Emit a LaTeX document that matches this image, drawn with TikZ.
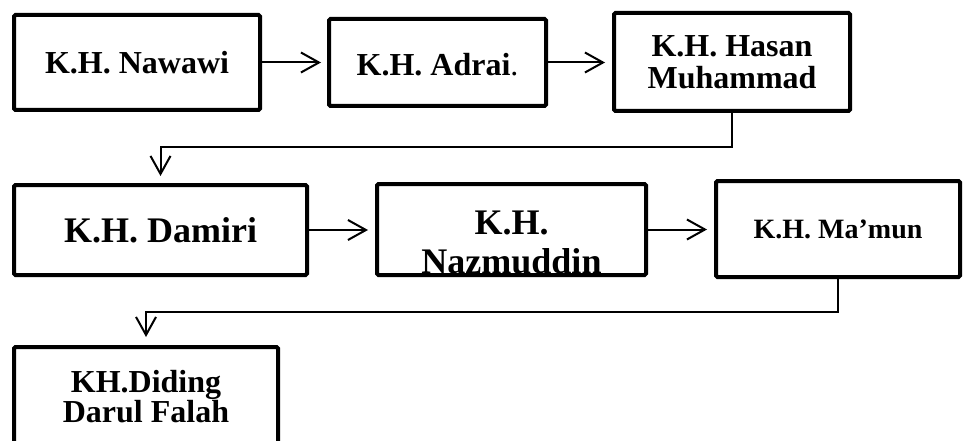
\documentclass[tikz,border=0pt]{standalone}
\usepackage{fontspec}
\setmainfont{Liberation Serif}
\usetikzlibrary{arrows.meta}
\begin{document}
\begin{tikzpicture}[x=1pt,y=-1pt,
  box/.style={draw, line width=4pt, rounded corners=1.5pt, inner sep=0pt, align=center},
  fa/.style={font=\bfseries\fontsize{32}{32}\selectfont},
  fb/.style={font=\bfseries\fontsize{36}{39}\selectfont},
  fc/.style={font=\bfseries\fontsize{28}{28}\selectfont},
  conn/.style={line width=2pt, -{Straight Barb[length=18pt,width=20pt]}},
]
\useasboundingbox (0,0) rectangle (968,441);
\clip (0,0) rectangle (968,441);
% boxes
\node[box, fa, minimum width=246pt, minimum height=95pt] (n1) at (137,62.5) {K.H. Nawawi};
\node[box, fa, minimum width=217pt, minimum height=87pt, text height=27pt] (n2) at (437.5,62.5) {K.H. Adrai{\mdseries.}};
\node[box, fa, minimum width=236pt, minimum height=98pt] (n3) at (732,62) {K.H. Hasan\\Muhammad};
\node[box, fb, minimum width=293pt, minimum height=90pt] (n4) at (160.5,230) {K.H. Damiri};
\node[box, minimum width=269pt, minimum height=91pt] (n5) at (511.5,229.5) {};
\node[box, fc, minimum width=244pt, minimum height=96pt] (n6) at (838,229) {K.H. Ma’mun};
\node[box, minimum width=264pt, minimum height=131pt] (n7) at (146,412.5) {};
% clipped texts
\begin{scope}
  \clip (n5.north west) rectangle (n5.south east);
  \node[fb, align=center, inner sep=0pt, anchor=north] (t5) at (511.5,211) {K.H.\\Nazmuddin};
\end{scope}
\node[font=\bfseries\fontsize{32}{30}\selectfont, align=center, inner sep=0pt, anchor=north] (t7) at (146,370.3) {KH.Diding\\Darul Falah};
% connectors
\draw[conn, shorten >=6pt] (n1.east) -- (n2.west);
\draw[conn, shorten >=7pt] (n2.east) -- (n2.east -| n3.west);
\draw[conn, shorten >=7pt] (n4.east) -- (n4.east -| n5.west);
\draw[conn, shorten >=7pt] (n5.east) -- (n5.east -| n6.west);
\coordinate (j1) at (732,147);
\draw[conn, shorten >=7pt] (n3.south) -- (j1) -- (j1 -| n4.north) -- (n4.north);
\coordinate (j2) at (838,312);
\draw[conn, shorten >=8pt] (n6.south) -- (j2) -- (j2 -| n7.north) -- (n7.north);
\end{tikzpicture}
\end{document}
